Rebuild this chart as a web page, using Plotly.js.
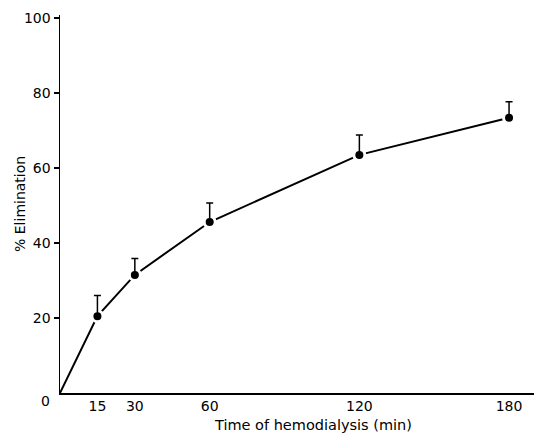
<!DOCTYPE html>
<html><head><meta charset="utf-8">
<script src="https://cdn.plot.ly/plotly-3.0.1.min.js"></script>
<style>html,body{margin:0;padding:0;background:#fff}#c{width:534px;height:434px}</style>
</head><body><div id="c"></div>
<script>
var times = [15, 30, 60, 120, 180];
var elimination = [20.5, 31.5, 45.6, 63.5, 73.4];
var errorUp = [5.5, 4.4, 5.1, 5.3, 4.3];
var xTicks = [15, 30, 60, 120, 180];
var yTicks = [20, 40, 60, 80, 100];

var fam = 'DejaVu Sans, Liberation Sans, sans-serif';
var font = {family: fam, size: 14, color: '#000'};

var lineTrace = {
  x: [0].concat(times), y: [0].concat(elimination),
  mode: 'lines', line: {color: '#000', width: 2}, hoverinfo: 'skip', showlegend: false
};
var pointTrace = {
  x: times, y: elimination, mode: 'markers',
  marker: {color: '#000', size: 11, line: {color: '#fff', width: 3}}, showlegend: false
};
var errTrace = {
  x: times, y: elimination, mode: 'markers',
  marker: {color: 'rgba(0,0,0,0)', size: 1},
  error_y: {type: 'data', symmetric: false, array: errorUp, arrayminus: times.map(function(){return 0;}),
            color: '#000', thickness: 1.5, width: 3.5},
  showlegend: false
};

var layout = {
  width: 534, height: 434,
  margin: {l: 60, r: 0, t: 15, b: 41},
  paper_bgcolor: '#fff', plot_bgcolor: '#fff',
  font: font,
  xaxis: {range: [0, 190], tickvals: xTicks, ticktext: xTicks.map(String), ticks: '',
          showline: true, linecolor: '#000', linewidth: 1.5, showgrid: false, zeroline: false,
          tickfont: font},
  yaxis: {range: [0, 100.8], tickvals: yTicks, ticktext: yTicks.map(String), ticks: 'outside', ticklen: 5,
          tickwidth: 1.2, tickcolor: '#000',
          showline: true, linecolor: '#000', linewidth: 1.5, showgrid: false, zeroline: false,
          tickfont: font},
  annotations: [
    {text: '0', xref: 'paper', yref: 'paper', x: 0, y: 0, xshift: -15, yshift: -8,
     xanchor: 'center', yanchor: 'middle', showarrow: false, font: font},
    {text: 'Time of hemodialysis (min)', xref: 'paper', yref: 'paper', x: (313 - 60) / 474, y: 0,
     yshift: -32, xanchor: 'center', yanchor: 'middle', showarrow: false, font: {family: fam, size: 14.5, color: '#000'}},
    {text: '% Elimination', xref: 'paper', yref: 'paper', x: 0, y: 0.5, xshift: -40, textangle: -90,
     xanchor: 'center', yanchor: 'middle', showarrow: false, font: {family: fam, size: 14, color: '#000'}}
  ]
};
Plotly.newPlot('c', [lineTrace, pointTrace, errTrace], layout, {staticPlot: true});
</script></body></html>
